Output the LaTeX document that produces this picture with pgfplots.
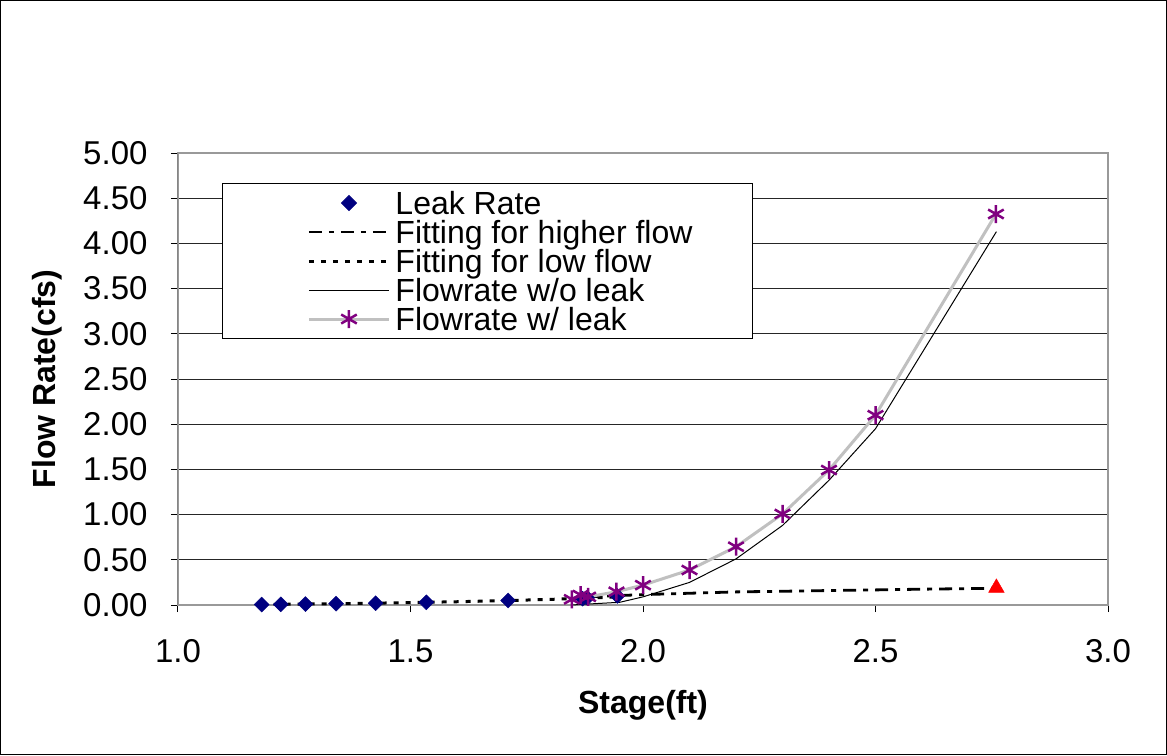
\documentclass[border=0pt]{standalone}
\usepackage{pgfplots}
\pgfplotsset{compat=1.18}
\usepackage{fontspec}
\setmainfont{Liberation Sans}
\usetikzlibrary{plotmarks}
\definecolor{leakblue}{RGB}{0,0,128}
\definecolor{starpurple}{RGB}{128,0,128}
\definecolor{fitgray}{RGB}{192,192,192}
\begin{document}
\begin{tikzpicture}
\begin{axis}[
    scale only axis,
    width=930pt, height=452pt,
    xmin=1, xmax=3, ymin=0, ymax=5,
    xtick={1,1.5,...,3},
    ytick={0,0.5,...,5},
    ticklabel style={font=\fontsize{33}{33}\selectfont},
    xticklabel style={yshift=-24pt, /pgf/number format/.cd,fixed,fixed zerofill,precision=1},
    yticklabel style={xshift=-20pt, /pgf/number format/.cd,fixed,fixed zerofill,precision=2},
    /pgf/number format/assume math mode=true,
    tick align=outside, xtick pos=left, ytick pos=left,
    major tick length=7pt,
    tick style={black, line width=1pt},
    ymajorgrids,
    major grid style={black!85, line width=1pt},
    axis line style={gray!80, line width=2pt},
    xlabel={\bfseries Stage(ft)},
    ylabel={\bfseries Flow Rate(cfs)},
    label style={font=\fontsize{32}{32}\selectfont},
    xlabel style={at={(axis description cs:0.5,-0.2212)}, anchor=center},
    ylabel style={at={(axis description cs:-0.1409,0.5)}, anchor=center},
    legend cell align=left,
    legend image code/.code={%
        \path (-30pt,0pt);
        \draw[mark repeat=2,mark phase=2,#1] plot coordinates {(0pt,0pt) (40pt,0pt) (80pt,0pt)};},
    legend style={at={(0.0473,0.9336)}, anchor=north west,
        draw=black, line width=1pt, inner xsep=55pt, inner ysep=5pt,
        font=\fontsize{32}{32}\selectfont,
        nodes={text height=25pt, text depth=3pt, inner ysep=0.5pt, inner xsep=5pt},
        row sep=0pt},
]
\addplot[only marks, mark=square*, mark size=5.3pt, mark options={rotate=45, leakblue, draw=leakblue, fill=leakblue}]
coordinates {
    (1.180,0.005) (1.221,0.008) (1.274,0.010) (1.340,0.015) (1.425,0.020)
    (1.534,0.030) (1.710,0.050) (1.870,0.070) (1.880,0.080) (1.945,0.100)
};
\addlegendentry{Leak Rate}
\addplot[black, line width=2.8pt, dash pattern=on 13pt off 7pt on 5pt off 7pt, no marks]
coordinates {
    (1.88,0.090) (2.00,0.115) (2.10,0.130) (2.20,0.145) (2.30,0.152)
    (2.40,0.160) (2.50,0.167) (2.60,0.175) (2.76,0.185)
};
\addlegendentry{Fitting for higher flow}
\addplot[black, line width=3pt, dash pattern=on 5pt off 7pt, no marks]
coordinates {
    (1.18,0.005) (1.30,0.012) (1.40,0.018) (1.50,0.027) (1.60,0.036)
    (1.70,0.048) (1.80,0.062) (1.90,0.080) (1.95,0.090)
};
\addlegendentry{Fitting for low flow}
\addplot[black, line width=1pt, no marks]
coordinates {
    (1.85,0.00) (1.87,0.01) (1.88,0.01) (1.95,0.03) (2.00,0.09) (2.10,0.25)
    (2.20,0.51) (2.30,0.88) (2.40,1.38) (2.50,1.95) (2.76,4.13)
};
\addlegendentry{Flowrate w/o leak}
\addplot[fitgray, line width=3pt, mark=asterisk, mark size=9pt,
    mark options={starpurple, line width=2.5pt}]
coordinates {
    (1.847,0.063) (1.866,0.110) (1.882,0.090) (1.943,0.147) (2.000,0.220)
    (2.100,0.387) (2.200,0.645) (2.300,1.007) (2.400,1.493) (2.500,2.100)
    (2.759,4.325)
};
\addlegendentry{Flowrate w/ leak}
\addplot[forget plot, only marks, mark=triangle*, mark size=9pt, mark options={red, fill=red}]
coordinates {(2.76,0.19)};
\draw[black, line width=1pt] (rel axis cs:0,0) -- (rel axis cs:0,1);
\end{axis}
\draw[black, line width=1pt] (-177.5pt,-149.5pt) rectangle (988.5pt,604.5pt);
\end{tikzpicture}
\end{document}
